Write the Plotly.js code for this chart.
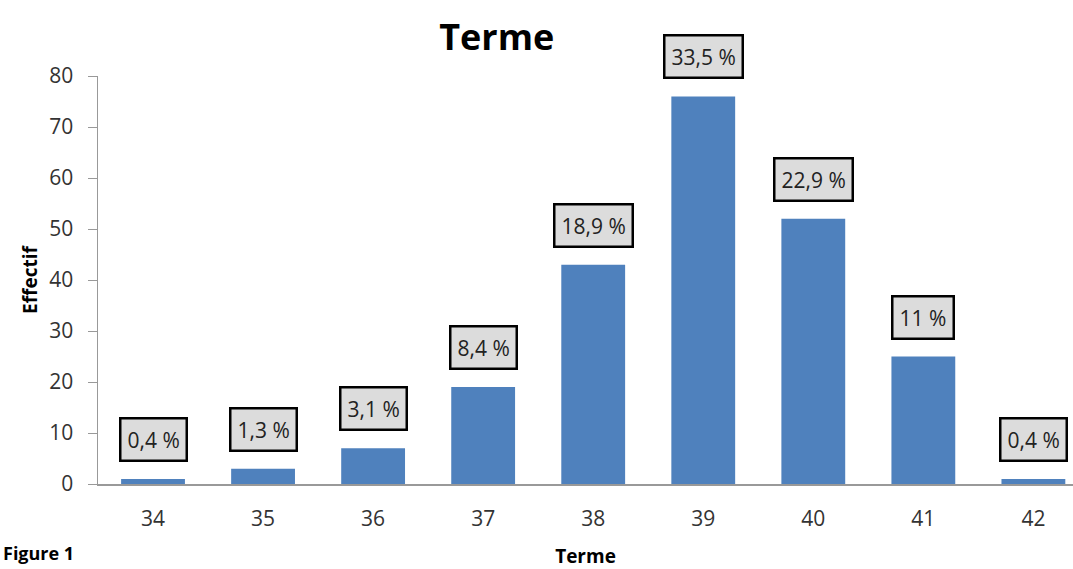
<!DOCTYPE html>
<html><head><meta charset="utf-8">
<script src="https://cdn.plot.ly/plotly-3.0.1.min.js"></script>
<style>html,body{margin:0;padding:0;background:#fff}#c{width:1073px;height:569px}</style>
</head><body><div id="c"></div>
<script>
const categories = ["34","35","36","37","38","39","40","41","42"];
const effectifs = [1, 3, 7, 19, 43, 76, 52, 25, 1];
const pourcentages = ["0,4 %","1,3 %","3,1 %","8,4 %","18,9 %","33,5 %","22,9 %","11 %","0,4 %"];
const yTicks = [0,10,20,30,40,50,60,70,80];

const font = "Open Sans, Liberation Sans, sans-serif";
const annotations = categories.map((c,i)=>({
  x: i, y: effectifs[i], xref:'x', yref:'y',
  text: pourcentages[i], showarrow:false, yanchor:'bottom', yshift:17,
  font:{family:font, size:21, color:'#222'},
  bgcolor:'#dcdcdc', bordercolor:'#000', borderwidth:2.5, borderpad:6
}));
annotations.push({xref:'paper', yref:'paper', x:-0.1, y:-0.204, xanchor:'left', yanchor:'bottom',
  text:'<b>Figure 1</b>', showarrow:false, font:{family:font, size:18, color:'#000'}});

Plotly.newPlot('c', [{
  type:'bar', x:categories, y:effectifs, width:0.58,
  marker:{color:'#4F81BD'}, hoverinfo:'none'
}], {
  width:1073, height:569,
  margin:{l:98, r:0, t:76, b:85},
  paper_bgcolor:'#fff', plot_bgcolor:'#fff',
  title:{text:'<b>Terme</b>', x:0.463, xanchor:'center', y:0.935, yanchor:'middle',
    font:{family:font, size:36, color:'#000'}},
  xaxis:{type:'category', range:[-0.5, 8.36], showline:true, linecolor:'#999', linewidth:1.5,
    ticks:'', showgrid:false, tickfont:{family:font, size:21, color:'#333'}, ticklabelstandoff:15,
    title:{text:'<b>Terme</b>', font:{family:font, size:19, color:'#000'}, standoff:22}},
  yaxis:{range:[0,80], tickvals:yTicks, showline:true, linecolor:'#999', linewidth:1.5,
    ticks:'outside', ticklen:9, tickcolor:'#999', showgrid:false, zeroline:false,
    tickfont:{family:font, size:21, color:'#333'}, ticklabelstandoff:10,
    title:{text:'<b>Effectif</b>', font:{family:font, size:19, color:'#000'}, standoff:6}},
  annotations: annotations,
  showlegend:false
}, {displayModeBar:false, staticPlot:true});
</script></body></html>
